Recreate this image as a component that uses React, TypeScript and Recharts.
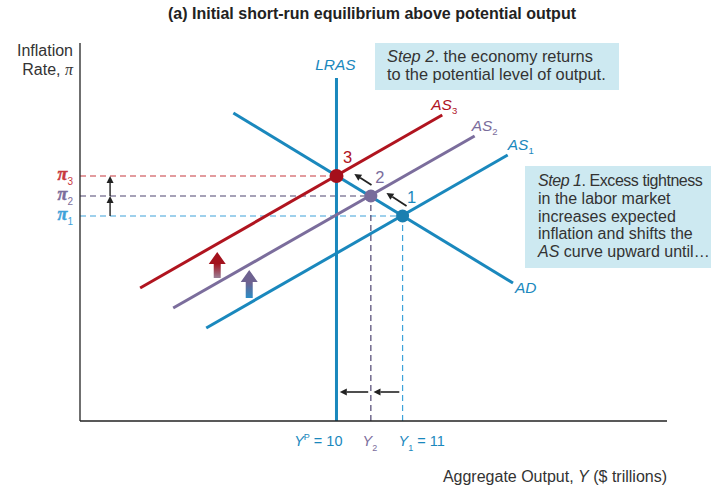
import React from 'react';
import { ComposedChart, Line, Scatter, Cell, XAxis, YAxis, ReferenceLine, ReferenceDot } from 'recharts';

const FONT = '"Liberation Sans", Arial, Helvetica, sans-serif';
const SERIF = '"Liberation Serif", "Times New Roman", serif';
const BLUE = '#1a88bd';
const LIGHT_BLUE = '#3ea2d9';
const PURPLE = '#7b6d9c';
const DARK_PURPLE = '#4e4570';
const RED = '#b0141f';
const DASH_RED = '#c8383f';
const TEXT = '#333333';
const BOX = '#cde9f1';

// ---- axes ----
const xDomain = [6.12, 15.0];
const yDomain = [-0.25, 18.65];

// ---- equilibrium points ----
const eqNames = ['1', '2', '3'];
const eqOutput = [11, 10.52, 10];
const eqInflation = [10, 11, 12];
const eqColors = ['#1a7fb0', '#786b9b', '#a50f1b'];
const eqLabelColors = [BLUE, PURPLE, RED];

// ---- curves (endpoints) ----
const adOutput = [8.44, 12.67];
const adInflation = [15.15, 6.65];
const as1Output = [8.03, 12.59];
const as1Inflation = [4.4, 13.05];
const as2Output = [7.53, 12.09];
const as2Inflation = [5.4, 14.0];
const as3Output = [7.03, 11.6];
const as3Inflation = [6.4, 15.05];
const lrasOutput = [10, 10];
const lrasInflation = [-0.25, 16.9];

// ---- tick labels ----
const xTickValues = [10, 10.52, 11];
const xTickScript = ['P', '2', '1'];
const xTickSuffix = [' = 10', '', ' = 11'];
const xTickColors = [BLUE, PURPLE, BLUE];
const yTickValues = [10, 11, 12];
const yTickScript = ['1', '2', '3'];
const yTickColors = [LIGHT_BLUE, PURPLE, DASH_RED];

// ---- annotation arrows ----
const piArrowOutput = 6.575;
const outputArrowLevel = 1.2;
const outputArrowFrom = [10.95, 10.48];
const outputArrowTo = [10.56, 10.05];
const pathArrowFromX = [11.06, 10.53];
const pathArrowFromY = [10.5, 11.55];
const pathArrowToX = [10.756, 10.27];
const pathArrowToY = [11.15, 12.1];
const shiftArrowOutput = [8.196, 8.68];
const shiftArrowBottom = [6.9, 5.9];
const shiftArrowTop = [8.2, 7.3];
const shiftArrowHead = ['#a3121d', '#6e6290'];
const shiftArrowTail = ['#9a8198', '#2a8dc6'];

const toPoints = (xs: number[], ys: number[]) => xs.map((x, i) => ({ x, y: ys[i] }));

const adData = toPoints(adOutput, adInflation);
const as1Data = toPoints(as1Output, as1Inflation);
const as2Data = toPoints(as2Output, as2Inflation);
const as3Data = toPoints(as3Output, as3Inflation);
const lrasData = toPoints(lrasOutput, lrasInflation);
const eqData = toPoints(eqOutput, eqInflation);

const arrowShape = (color: string, width: number) => (p: any) => {
  const x1 = Number(p.x1), y1 = Number(p.y1), x2 = Number(p.x2), y2 = Number(p.y2);
  const dx = x2 - x1, dy = y2 - y1;
  const len = Math.hypot(dx, dy) || 1;
  const ux = dx / len, uy = dy / len;
  const hl = 7, hw = 3.5;
  const bx = x2 - ux * hl, by = y2 - uy * hl;
  const px = -uy, py = ux;
  return (
    <g>
      <line x1={x1} y1={y1} x2={bx} y2={by} stroke={color} strokeWidth={width} />
      <polygon points={`${x2},${y2} ${bx + px * hw},${by + py * hw} ${bx - px * hw},${by - py * hw}`} fill={color} />
    </g>
  );
};

const thickArrow = (id: string, head: string, tail: string) => (p: any) => {
  const cx = Number(p.x1), yb = Number(p.y1), yt = Number(p.y2);
  const headH = 12, headHW = 8.5, shaftHW = 3.5;
  const pts = [
    [cx, yt], [cx + headHW, yt + headH], [cx + shaftHW, yt + headH], [cx + shaftHW, yb],
    [cx - shaftHW, yb], [cx - shaftHW, yt + headH], [cx - headHW, yt + headH],
  ].map((q) => q.join(',')).join(' ');
  return (
    <g>
      <defs>
        <linearGradient id={id} x1="0" y1="0" x2="0" y2="1">
          <stop offset="0" stopColor={head} />
          <stop offset="0.45" stopColor={head} />
          <stop offset="1" stopColor={tail} />
        </linearGradient>
      </defs>
      <polygon points={pts} fill={`url(#${id})`} />
    </g>
  );
};

const curveLabel = (main: string, sub: string, color: string, dx: number, dy: number, anchor: string = 'start') => (p: any) => (
  <text x={Number(p.cx) + dx} y={Number(p.cy) + dy} fill={color} fontFamily={FONT} fontSize={15.5} fontStyle="italic" textAnchor={anchor as any}>
    <tspan>{main}</tspan>
    {sub ? <tspan fontSize={9.5} fontStyle="normal" dy={4}>{sub}</tspan> : null}
  </text>
);

const XTick = (p: any) => {
  const i = xTickValues.indexOf(p.payload.value);
  if (i < 0) return null;
  const x = Number(p.x), y = Number(p.y) + 25;
  const c = xTickColors[i];
  if (i === 0) {
    return (
      <text x={x + 6} y={y} textAnchor="end" fill={c} fontFamily={FONT} fontSize={14.5}>
        <tspan fontStyle="italic">Y</tspan>
        <tspan fontSize={9} dy={-6}>{xTickScript[i]}</tspan>
        <tspan dy={6}>{xTickSuffix[i]}</tspan>
      </text>
    );
  }
  if (i === 1) {
    return (
      <text x={x - 1} y={y} textAnchor="middle" fill={c} fontFamily={FONT} fontSize={14.5}>
        <tspan fontStyle="italic">Y</tspan>
        <tspan fontSize={9} dy={5}>{xTickScript[i]}</tspan>
      </text>
    );
  }
  return (
    <text x={x - 4} y={y} textAnchor="start" fill={c} fontFamily={FONT} fontSize={14.5}>
      <tspan fontStyle="italic">Y</tspan>
      <tspan fontSize={9} dy={5}>{xTickScript[i]}</tspan>
      <tspan dy={-5}>{xTickSuffix[i]}</tspan>
    </text>
  );
};

const YTick = (p: any) => {
  const i = yTickValues.indexOf(p.payload.value);
  if (i < 0) return null;
  return (
    <text x={Number(p.x) - 7} y={Number(p.y) + 4} textAnchor="end" fill={yTickColors[i]}>
      <tspan fontFamily={SERIF} fontStyle="italic" fontWeight="bold" fontSize={18} stroke={yTickColors[i]} strokeWidth={0.5}>π</tspan>
      <tspan fontFamily={FONT} fontSize={10} dy={5}>{yTickScript[i]}</tspan>
    </text>
  );
};

export default function App() {
  const dash = '6 4';
  return (
    <div style={{ position: 'absolute', left: 0, top: 0, width: 711, height: 486, background: '#fff', fontFamily: FONT, color: TEXT }}>
      <ComposedChart width={711} height={486} margin={{ top: 43, right: 44, bottom: 35, left: 40 }}>
        <XAxis
          type="number" dataKey="x" domain={xDomain} allowDataOverflow ticks={xTickValues} interval={0}
          tick={(p: any) => <XTick {...p} />} tickLine={false} tickSize={0} tickMargin={0} height={30}
          axisLine={{ stroke: '#222', strokeWidth: 1.3 }}
        />
        <YAxis
          type="number" dataKey="y" domain={yDomain} allowDataOverflow ticks={yTickValues} interval={0}
          tick={(p: any) => <YTick {...p} />} tickLine={false} tickSize={0} tickMargin={0} width={40}
          axisLine={{ stroke: '#222', strokeWidth: 1.3 }}
        />

        {/* dashed guides */}
        <ReferenceLine segment={[{ x: xDomain[0], y: eqInflation[2] }, { x: eqOutput[2], y: eqInflation[2] }]} stroke={DASH_RED} strokeWidth={1.2} strokeDasharray={dash} />
        <ReferenceLine segment={[{ x: xDomain[0], y: eqInflation[1] }, { x: eqOutput[1], y: eqInflation[1] }]} stroke={DARK_PURPLE} strokeWidth={1.2} strokeDasharray={dash} />
        <ReferenceLine segment={[{ x: xDomain[0], y: eqInflation[0] }, { x: eqOutput[0], y: eqInflation[0] }]} stroke={LIGHT_BLUE} strokeWidth={1.2} strokeDasharray={dash} />
        <ReferenceLine segment={[{ x: eqOutput[1], y: yDomain[0] }, { x: eqOutput[1], y: eqInflation[1] }]} stroke={DARK_PURPLE} strokeWidth={1.2} strokeDasharray={dash} />
        <ReferenceLine segment={[{ x: eqOutput[0], y: yDomain[0] }, { x: eqOutput[0], y: eqInflation[0] }]} stroke={LIGHT_BLUE} strokeWidth={1.2} strokeDasharray={dash} />

        {/* curves */}
        <Line data={lrasData} dataKey="y" stroke={BLUE} strokeWidth={3} dot={false} isAnimationActive={false} />
        <Line data={adData} dataKey="y" stroke={BLUE} strokeWidth={3} dot={false} isAnimationActive={false} />
        <Line data={as1Data} dataKey="y" stroke={BLUE} strokeWidth={3} dot={false} isAnimationActive={false} />
        <Line data={as2Data} dataKey="y" stroke={PURPLE} strokeWidth={3} dot={false} isAnimationActive={false} />
        <Line data={as3Data} dataKey="y" stroke={RED} strokeWidth={3} dot={false} isAnimationActive={false} />

        <Scatter data={eqData} isAnimationActive={false}
          shape={(p: any) => <circle cx={p.cx} cy={p.cy} r={p.payload && p.payload.y === eqInflation[2] ? 7 : 6.5} fill={p.fill} />}>
          {eqData.map((_, i) => <Cell key={i} fill={eqColors[i]} />)}
        </Scatter>

        {/* equilibrium numbers */}
        {eqNames.map((n, i) => (
          <ReferenceDot key={'n' + i} x={eqOutput[i]} y={eqInflation[i]} r={0} ifOverflow="visible"
            shape={(p: any) => (
              <text x={Number(p.cx) + (i === 2 ? 11 : 9)} y={Number(p.cy) - 13} textAnchor="middle" fill={eqLabelColors[i]} fontFamily={FONT} fontSize={16.5}>{n}</text>
            )} />
        ))}

        {/* curve labels */}
        <ReferenceDot x={lrasOutput[1]} y={lrasInflation[1]} r={0} ifOverflow="visible" shape={curveLabel('LRAS', '', BLUE, -1, -8, 'middle')} />
        <ReferenceDot x={adOutput[1]} y={adInflation[1]} r={0} ifOverflow="visible" shape={curveLabel('AD', '', BLUE, 2, 10)} />
        <ReferenceDot x={as1Output[1]} y={as1Inflation[1]} r={0} ifOverflow="visible" shape={curveLabel('AS', '1', BLUE, 0, -5)} />
        <ReferenceDot x={as2Output[1]} y={as2Inflation[1]} r={0} ifOverflow="visible" shape={curveLabel('AS', '2', PURPLE, -3, -5)} />
        <ReferenceDot x={as3Output[1]} y={as3Inflation[1]} r={0} ifOverflow="visible" shape={curveLabel('AS', '3', RED, -11, -5)} />

        {/* inflation step arrows */}
        <ReferenceLine segment={[{ x: piArrowOutput, y: eqInflation[0] }, { x: piArrowOutput, y: eqInflation[1] }]} shape={arrowShape('#222', 1.4)} />
        <ReferenceLine segment={[{ x: piArrowOutput, y: eqInflation[1] }, { x: piArrowOutput, y: eqInflation[2] }]} shape={arrowShape('#222', 1.4)} />

        {/* output arrows */}
        {outputArrowFrom.map((f, i) => (
          <ReferenceLine key={'o' + i} segment={[{ x: f, y: outputArrowLevel }, { x: outputArrowTo[i], y: outputArrowLevel }]} shape={arrowShape('#222', 1.6)} />
        ))}

        {/* path arrows */}
        {pathArrowFromX.map((f, i) => (
          <ReferenceLine key={'p' + i} segment={[{ x: f, y: pathArrowFromY[i] }, { x: pathArrowToX[i], y: pathArrowToY[i] }]} shape={arrowShape('#222', 1.8)} />
        ))}

        {/* AS shift arrows */}
        {shiftArrowOutput.map((x, i) => (
          <ReferenceLine key={'s' + i} segment={[{ x, y: shiftArrowBottom[i] }, { x, y: shiftArrowTop[i] }]} shape={thickArrow('shiftGrad' + i, shiftArrowHead[i], shiftArrowTail[i])} />
        ))}
      </ComposedChart>

      {/* title */}
      <div style={{ position: 'absolute', left: 168, top: 4, lineHeight: '20px', fontSize: 16, fontWeight: 'bold', color: '#222', whiteSpace: 'nowrap' }}>
        (a) Initial short-run equilibrium above potential output
      </div>

      {/* y axis title */}
      <div style={{ position: 'absolute', left: 0, top: 41, width: 73, textAlign: 'right', fontSize: 16, lineHeight: '19px', color: TEXT }}>
        Inflation<br />Rate, <span style={{ fontFamily: SERIF, fontStyle: 'italic' }}>π</span>
      </div>

      {/* x axis title */}
      <div style={{ position: 'absolute', left: 0, top: 467, width: 667, textAlign: 'right', fontSize: 16, lineHeight: '20px', color: TEXT, whiteSpace: 'nowrap' }}>
        Aggregate Output, <i>Y</i> ($ trillions)
      </div>

      {/* step 2 box */}
      <div style={{ position: 'absolute', left: 375, top: 43, width: 244, height: 47, boxSizing: 'border-box', background: BOX, padding: '4px 0 0 12px', fontSize: 16.4, lineHeight: '18px', color: TEXT, whiteSpace: 'nowrap' }}>
        <i>Step 2</i>. the economy returns<br />to the potential level of output.
      </div>

      {/* step 1 box */}
      <div style={{ position: 'absolute', left: 525, top: 166, width: 186, height: 102, boxSizing: 'border-box', background: BOX, padding: '6px 0 0 13px', fontSize: 16, lineHeight: '17.8px', color: TEXT, whiteSpace: 'nowrap', overflow: 'hidden' }}>
        <span style={{ letterSpacing: '-0.45px' }}><i>Step 1</i>. Excess tightness</span><br />in the labor market<br />increases expected<br />inflation and shifts the<br /><i>AS</i> curve upward until…
      </div>
    </div>
  );
}
